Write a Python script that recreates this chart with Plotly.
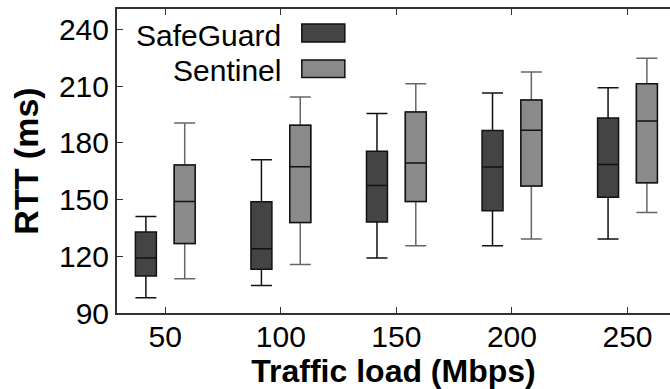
import plotly.graph_objects as go

loads = [50, 100, 150, 200, 250]
tick_vals = [50, 100, 150, 200, 250]
y_ticks = [90, 120, 150, 180, 210, 240]

# SafeGuard: lower whisker, Q1, median, Q3, upper whisker
sg_low = [98.1, 104.6, 119.1, 125.6, 129.2]
sg_q1 = [109.6, 113.1, 138.1, 144.1, 151.2]
sg_med = [119.1, 124.0, 157.4, 167.2, 168.5]
sg_q3 = [132.9, 148.9, 175.5, 186.5, 193.2]
sg_high = [141.1, 171.1, 195.5, 206.4, 209.2]

# Sentinel
se_low = [108.1, 115.7, 125.6, 129.2, 143.1]
se_q1 = [126.7, 137.9, 149.0, 157.2, 158.9]
se_med = [149.0, 167.4, 169.4, 186.6, 191.6]
se_q3 = [168.3, 189.3, 196.3, 202.7, 211.3]
se_high = [190.5, 204.3, 211.3, 217.5, 224.7]

dark = "#444444"
light = "#8a8a8a"
font_family = "Liberation Sans, Arial, sans-serif"

fig = go.Figure()

fig.add_trace(go.Box(
    name="SafeGuard", x=loads, q1=sg_q1, median=sg_med, q3=sg_q3,
    lowerfence=sg_low, upperfence=sg_high, offsetgroup="sg",
    fillcolor=dark, line=dict(color="#111111", width=1.5),
    whiskerwidth=1, boxpoints=False, showlegend=False, hoverinfo="skip",
))
# Sentinel whiskers (gray)
fig.add_trace(go.Box(
    name="Sentinel", x=loads, q1=se_q1, median=se_med, q3=se_q3,
    lowerfence=se_low, upperfence=se_high, offsetgroup="se",
    fillcolor=light, line=dict(color="#666666", width=1.5),
    whiskerwidth=1, boxpoints=False, showlegend=False, hoverinfo="skip",
))
# Sentinel box outline (black) on top
fig.add_trace(go.Box(
    name="Sentinel box", x=loads, q1=se_q1, median=se_med, q3=se_q3,
    lowerfence=se_q1, upperfence=se_q3, offsetgroup="se",
    fillcolor=light, line=dict(color="#111111", width=1.5),
    whiskerwidth=0, boxpoints=False, showlegend=False, hoverinfo="skip",
))

# Legend (gnuplot-style: text left, swatch right)
legend_items = [("SafeGuard", dark, 0.9138, 0.8914, 0.9507),
                ("Sentinel", light, 0.797, 0.775, 0.8322)]
for label, col, yc, y0, y1 in legend_items:
    fig.add_annotation(text=label, xref="paper", yref="paper", x=0.2993, y=yc,
                       xanchor="right", yanchor="middle", showarrow=False,
                       font=dict(family=font_family, size=30, color="black"))
    fig.add_shape(type="rect", xref="paper", yref="paper", x0=0.3342, x1=0.4120,
                  y0=y0, y1=y1, fillcolor=col, line=dict(color="#111111", width=1.5))

fig.update_layout(
    width=670, height=389,
    margin=dict(l=117, r=0, t=9, b=76),
    paper_bgcolor="white", plot_bgcolor="white",
    boxmode="group", boxgap=0.328, boxgroupgap=0.46,
    font=dict(family=font_family, size=30, color="black"),
)
fig.update_xaxes(
    range=[29.1, 268.4], tickvals=tick_vals, ticktext=[str(v) for v in tick_vals],
    ticks="inside", ticklen=6, tickwidth=1, tickcolor="#333333",
    ticklabelstandoff=-4,
    showline=True, linecolor="#333333", linewidth=2, mirror="ticks",
    showgrid=False, zeroline=False,
    title=dict(text="<b>Traffic load (Mbps)</b>", font=dict(size=32), standoff=2),
)
fig.update_yaxes(
    range=[90, 250.8], tickvals=y_ticks,
    ticks="inside", ticklen=6, tickwidth=1, tickcolor="#333333",
    showline=True, linecolor="#333333", linewidth=2, mirror=False,
    showgrid=False, zeroline=False,
    title=dict(text="<b>RTT (ms)</b>", font=dict(size=34), standoff=10),
)

fig.write_html("out.html")
